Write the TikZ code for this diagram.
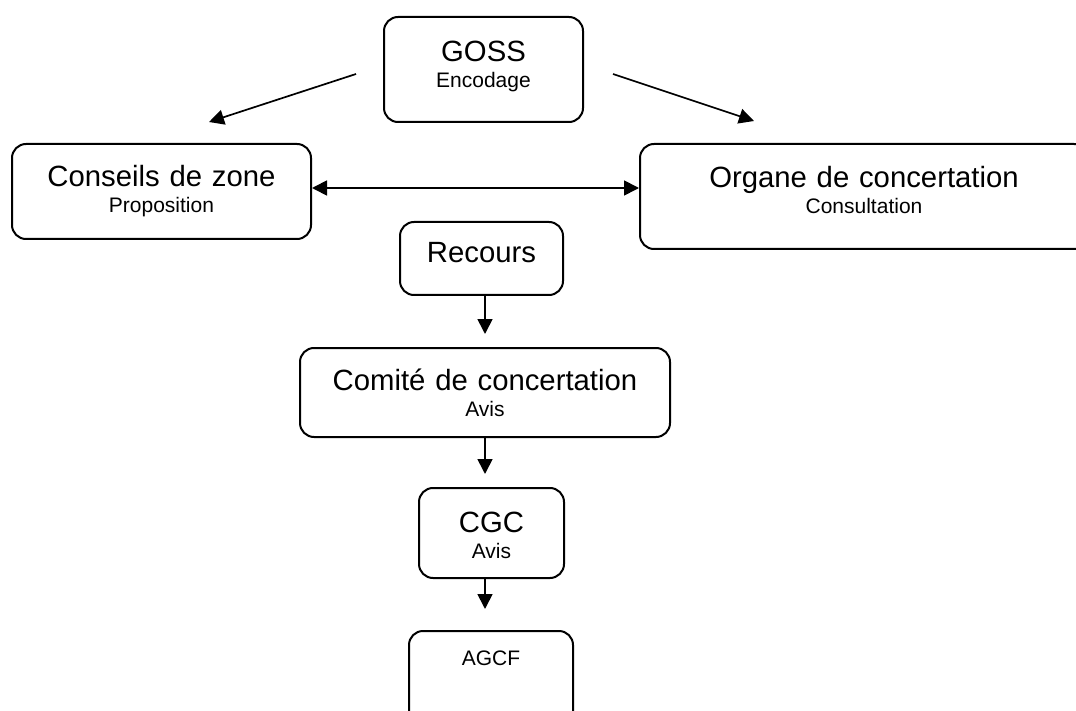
\documentclass[tikz,border=0pt]{standalone}
\usepackage{fontspec}
\setmainfont{Liberation Sans}
\usetikzlibrary{arrows.meta}
\newcommand{\boxtitle}{\fontsize{29.3pt}{26pt}\selectfont}
\newcommand{\boxsub}{\fontsize{21pt}{26pt}\selectfont}

\begin{document}
\begin{tikzpicture}[x=1pt, y=-1pt, >={Triangle[length=15pt, width=15pt]},
    every node/.style = {shape=rectangle, rounded corners=14pt, draw, line width=2pt, align=center, inner sep=0pt, anchor=north west, font=\boxtitle}]
  \tikzset{ flow/.style = {->, line width=1.7pt} }
  \useasboundingbox (0,0) rectangle (1076,711);
  \node (goss) at (383,16) [text width=199pt, text height=45pt, text depth=60pt] {GOSS\\{\boxsub Encodage}};
  \node (conseils) at (11,143) [text width=299pt, text height=43pt, text depth=52pt] {Conseils de zone\\{\boxsub Proposition}};
  \node (organe) at (639,143) [text width=448pt, text height=43.5pt, text depth=61.5pt] {Organe de concertation\\{\boxsub Consultation}};
  \node (recours) at (399,221) [text width=163pt, text height=41pt, text depth=32pt] {Recours};
  \node (comite) at (299,347) [text width=370pt, text height=42pt, text depth=47pt] {Comité de concertation\\{\boxsub Avis}};
  \node (cgc) at (418,487) [text width=145pt, text height=44pt, text depth=46pt] {CGC\\{\boxsub Avis}};
  \node (agcf) at (408,630) [text width=164pt, text height=34pt, text depth=66pt] {\boxsub AGCF};
  % arrows
  \draw[flow] ([shift={(-27,4.5)}]goss.west) -- ([shift={(47.5,-21)}]conseils.north);
  \draw[flow] ([shift={(29,4.5)}]goss.east) -- ([shift={(-110,-22)}]organe.north);
  \draw[flow, <->] ([yshift=3.5pt]conseils.east) -- ([yshift=3.5pt]conseils.east -| organe.west);
  \draw[flow, shorten >=13pt] (recours.south -| comite) -- (comite.north);
  \draw[flow, shorten >=13pt] (comite.south) -- (cgc.north -| comite);
  \draw[flow, shorten >=21pt] (cgc.south -| comite) -- (agcf.north -| comite);
\end{tikzpicture}
\end{document}
